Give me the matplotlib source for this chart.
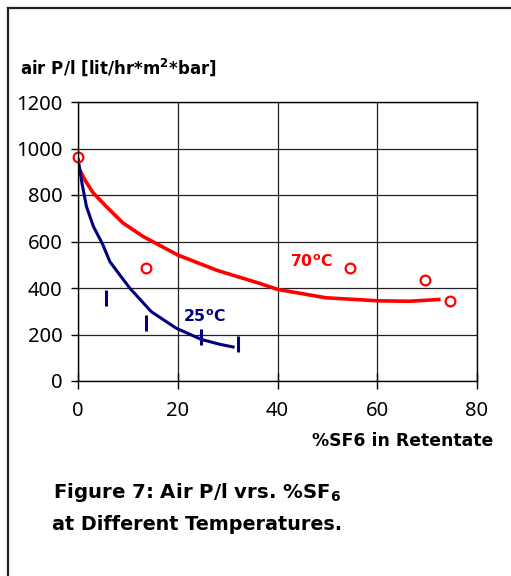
import matplotlib
matplotlib.use("Agg")
import matplotlib.pyplot as plt
from matplotlib.lines import Line2D

plt.rcParams['font.family'] = ['Noto Sans', 'DejaVu Sans']
BOLD = ['DejaVu Sans']

# measured points
x70 = [0, 13.6, 54.6, 69.6, 74.6]
y70 = [963, 486, 486, 434, 344]
x25 = [5.7, 13.6, 24.7, 32.1]
y25 = [356, 248, 190, 159]

# trend lines as drawn
fit70_x = [0, 1.4, 3, 5.7, 9, 13.1, 20, 28, 36.4, 40, 49.7, 60, 66.4, 72.7]
fit70_y = [922, 864, 810, 750, 680, 621, 542, 475, 420, 394, 358, 345, 343, 351]
fit25_x = [0, 0.8, 1.7, 3.1, 4.9, 6.4, 8.6, 10.4, 14.7, 19.7, 24.7, 28.4, 31.4]
fit25_y = [958, 850, 750, 664, 590, 513, 450, 399, 298, 227, 179, 158, 145]

xticks = [0, 20, 40, 60, 80]
yticks = [0, 200, 400, 600, 800, 1000, 1200]

fig = plt.figure(figsize=(5.11, 5.76), dpi=100)
ax = fig.add_axes([78/511, 1 - 381/576, 399/511, 279/576])

ax.plot(fit70_x, fit70_y, color='#ff0000', lw=2.6, solid_capstyle='butt')
ax.plot(fit25_x, fit25_y, color='#000080', lw=2.2, solid_capstyle='butt')
ax.plot(x70, y70, 'o', ms=7, mfc='none', mec='#ff0000', mew=1.6, clip_on=False)
ax.plot(x25, y25, '|', ms=11, mec='#000080', mew=2.2)

ax.text(42.6, 512, r'70$^{\mathregular{o}}$C', color='#ff0000', fontsize=11.3,
        fontweight='bold', family=BOLD, ha='left', va='center')
ax.text(21, 275, r'25$^{\mathregular{o}}$C', color='#000080', fontsize=11.3,
        fontweight='bold', family=BOLD, ha='left', va='center')

ax.set_xlim(0, 80)
ax.set_ylim(0, 1200)
ax.set_xticks(xticks)
ax.set_yticks(yticks)
ax.tick_params(axis='x', direction='inout', length=11, width=1, pad=9, labelsize=14.5)
ax.tick_params(axis='y', direction='out', length=5, width=1, pad=6, labelsize=14.5)
ax.grid(True, color='#222222', lw=0.9)
ax.set_axisbelow(True)
for s in ax.spines.values():
    s.set_color('black')
    s.set_linewidth(1)

fig.text(20/511, 1 - 67/576, r'air P/l [lit/hr*m$^{\mathregular{2}}$*bar]',
         fontsize=12, fontweight='bold', family=BOLD, ha='left', va='center')
fig.text(493/511, 1 - 441/576, '%SF6 in Retentate', fontsize=12.4,
         fontweight='bold', family=BOLD, ha='right', va='center')
fig.text(53/511, 1 - 493/576, r'Figure 7: Air P/l vrs. %SF$_{\mathregular{6}}$',
         fontsize=14.2, fontweight='bold', family=BOLD, ha='left', va='center')
fig.text(52/511, 1 - 525/576, 'at Different Temperatures.',
         fontsize=13.8, fontweight='bold', family=BOLD, ha='left', va='center')

# outer frame (left and top edges visible)
fx = 8/511
fy = 1 - 8/576
fig.add_artist(Line2D([fx, fx], [0, fy], transform=fig.transFigure, color='#222222', lw=1.6))
fig.add_artist(Line2D([fx, 1], [fy, fy], transform=fig.transFigure, color='#222222', lw=1.6))

fig.savefig('out.png', dpi=100)
